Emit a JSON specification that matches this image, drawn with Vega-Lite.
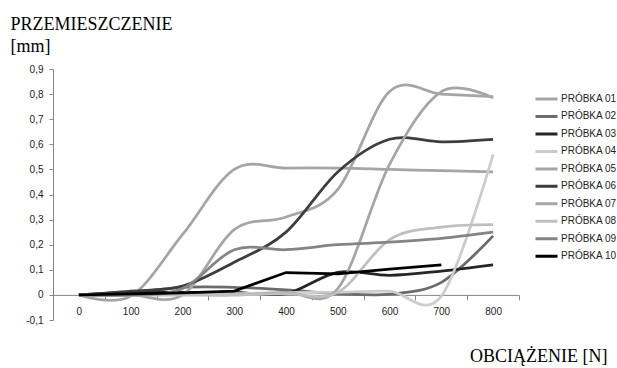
{
  "$schema": "https://vega.github.io/schema/vega-lite/v6.json",
  "width": 466,
  "height": 251,
  "autosize": {"type": "none"},
  "padding": {"left": 53, "top": 69, "right": 98, "bottom": 48},
  "background": "white",
  "config": {"view": {"stroke": null}, "font": "Liberation Sans"},
  "data": {"values": [
    {"s": "PRÓBKA 01", "x": 0, "y": 0}, {"s": "PRÓBKA 01", "x": 100, "y": -0.005}, {"s": "PRÓBKA 01", "x": 200, "y": 0.24}, {"s": "PRÓBKA 01", "x": 300, "y": 0.5}, {"s": "PRÓBKA 01", "x": 400, "y": 0.505}, {"s": "PRÓBKA 01", "x": 500, "y": 0.505}, {"s": "PRÓBKA 01", "x": 600, "y": 0.5}, {"s": "PRÓBKA 01", "x": 700, "y": 0.495}, {"s": "PRÓBKA 01", "x": 800, "y": 0.49},
    {"s": "PRÓBKA 02", "x": 0, "y": 0}, {"s": "PRÓBKA 02", "x": 100, "y": 0.01}, {"s": "PRÓBKA 02", "x": 200, "y": 0.03}, {"s": "PRÓBKA 02", "x": 300, "y": 0.03}, {"s": "PRÓBKA 02", "x": 400, "y": 0.02}, {"s": "PRÓBKA 02", "x": 500, "y": 0.005}, {"s": "PRÓBKA 02", "x": 600, "y": 0.003}, {"s": "PRÓBKA 02", "x": 700, "y": 0.05}, {"s": "PRÓBKA 02", "x": 800, "y": 0.235},
    {"s": "PRÓBKA 03", "x": 0, "y": 0}, {"s": "PRÓBKA 03", "x": 100, "y": 0.01}, {"s": "PRÓBKA 03", "x": 200, "y": 0.01}, {"s": "PRÓBKA 03", "x": 300, "y": 0.01}, {"s": "PRÓBKA 03", "x": 400, "y": 0.005}, {"s": "PRÓBKA 03", "x": 500, "y": 0.09}, {"s": "PRÓBKA 03", "x": 600, "y": 0.078}, {"s": "PRÓBKA 03", "x": 700, "y": 0.095}, {"s": "PRÓBKA 03", "x": 800, "y": 0.12},
    {"s": "PRÓBKA 04", "x": 0, "y": 0}, {"s": "PRÓBKA 04", "x": 100, "y": 0}, {"s": "PRÓBKA 04", "x": 200, "y": 0.005}, {"s": "PRÓBKA 04", "x": 300, "y": 0.005}, {"s": "PRÓBKA 04", "x": 400, "y": 0.01}, {"s": "PRÓBKA 04", "x": 500, "y": 0.01}, {"s": "PRÓBKA 04", "x": 600, "y": 0.015}, {"s": "PRÓBKA 04", "x": 700, "y": -0.005}, {"s": "PRÓBKA 04", "x": 800, "y": 0.56},
    {"s": "PRÓBKA 05", "x": 0, "y": 0}, {"s": "PRÓBKA 05", "x": 100, "y": 0}, {"s": "PRÓBKA 05", "x": 200, "y": 0}, {"s": "PRÓBKA 05", "x": 300, "y": 0.26}, {"s": "PRÓBKA 05", "x": 400, "y": 0.31}, {"s": "PRÓBKA 05", "x": 500, "y": 0.42}, {"s": "PRÓBKA 05", "x": 600, "y": 0.81}, {"s": "PRÓBKA 05", "x": 700, "y": 0.8}, {"s": "PRÓBKA 05", "x": 800, "y": 0.79},
    {"s": "PRÓBKA 06", "x": 0, "y": 0}, {"s": "PRÓBKA 06", "x": 100, "y": 0.015}, {"s": "PRÓBKA 06", "x": 200, "y": 0.035}, {"s": "PRÓBKA 06", "x": 300, "y": 0.13}, {"s": "PRÓBKA 06", "x": 400, "y": 0.25}, {"s": "PRÓBKA 06", "x": 500, "y": 0.49}, {"s": "PRÓBKA 06", "x": 600, "y": 0.62}, {"s": "PRÓBKA 06", "x": 700, "y": 0.61}, {"s": "PRÓBKA 06", "x": 800, "y": 0.62},
    {"s": "PRÓBKA 07", "x": 0, "y": 0}, {"s": "PRÓBKA 07", "x": 100, "y": 0}, {"s": "PRÓBKA 07", "x": 200, "y": 0}, {"s": "PRÓBKA 07", "x": 300, "y": 0}, {"s": "PRÓBKA 07", "x": 400, "y": 0.01}, {"s": "PRÓBKA 07", "x": 500, "y": 0.025}, {"s": "PRÓBKA 07", "x": 600, "y": 0.52}, {"s": "PRÓBKA 07", "x": 700, "y": 0.81}, {"s": "PRÓBKA 07", "x": 800, "y": 0.785},
    {"s": "PRÓBKA 08", "x": 0, "y": 0}, {"s": "PRÓBKA 08", "x": 100, "y": 0}, {"s": "PRÓBKA 08", "x": 200, "y": 0}, {"s": "PRÓBKA 08", "x": 300, "y": 0}, {"s": "PRÓBKA 08", "x": 400, "y": 0.005}, {"s": "PRÓBKA 08", "x": 500, "y": 0.01}, {"s": "PRÓBKA 08", "x": 600, "y": 0.22}, {"s": "PRÓBKA 08", "x": 700, "y": 0.27}, {"s": "PRÓBKA 08", "x": 800, "y": 0.28},
    {"s": "PRÓBKA 09", "x": 0, "y": 0}, {"s": "PRÓBKA 09", "x": 100, "y": 0}, {"s": "PRÓBKA 09", "x": 200, "y": 0.025}, {"s": "PRÓBKA 09", "x": 300, "y": 0.18}, {"s": "PRÓBKA 09", "x": 400, "y": 0.18}, {"s": "PRÓBKA 09", "x": 500, "y": 0.2}, {"s": "PRÓBKA 09", "x": 600, "y": 0.21}, {"s": "PRÓBKA 09", "x": 700, "y": 0.225}, {"s": "PRÓBKA 09", "x": 800, "y": 0.25},
    {"s": "PRÓBKA 10", "x": 0, "y": 0}, {"s": "PRÓBKA 10", "x": 100, "y": 0.004}, {"s": "PRÓBKA 10", "x": 200, "y": 0.008}, {"s": "PRÓBKA 10", "x": 300, "y": 0.015}, {"s": "PRÓBKA 10", "x": 400, "y": 0.089}, {"s": "PRÓBKA 10", "x": 500, "y": 0.084}, {"s": "PRÓBKA 10", "x": 600, "y": 0.103}, {"s": "PRÓBKA 10", "x": 700, "y": 0.12}
  ]},
  "encoding": {
    "x": {
      "field": "x", "type": "quantitative",
      "scale": {"domain": [-50, 850], "nice": false, "zero": false},
      "axis": {
        "values": [-50, 50, 150, 250, 350, 450, 550, 650, 750, 850],
        "offset": -25.1,
        "labelExpr": "datum.value > 800 ? '' : format(datum.value + 50, 'd')",
        "labelOffset": 25.9,
        "labelFlush": false, "labelOverlap": false, "labelBound": false,
        "tickSize": 5, "labelPadding": 7,
        "domainColor": "#868686", "tickColor": "#868686",
        "labelFont": "Liberation Sans", "labelFontSize": 10, "labelColor": "#222222",
        "grid": false,
        "title": "OBCIĄŻENIE [N]",
        "titleFont": "Liberation Serif", "titleFontSize": 18, "titleFontWeight": "normal", "titleColor": "#000000",
        "titleAlign": "right", "titleBaseline": "alphabetic", "titleAngle": 0,
        "titleX": 554, "titleY": 67
      }
    },
    "y": {
      "field": "y", "type": "quantitative",
      "scale": {"domain": [-0.1, 0.9], "nice": false, "zero": false},
      "axis": {
        "values": [-0.1, 0, 0.1, 0.2, 0.3, 0.4, 0.5, 0.6, 0.7, 0.8, 0.9],
        "labelExpr": "datum.value == 0 ? '0' : (datum.value < 0 ? '-' : '') + replace(format(abs(datum.value), '.1f'), '.', ',')",
        "tickSize": 4, "labelPadding": 6,
        "domainColor": "#868686", "tickColor": "#868686",
        "labelFont": "Liberation Sans", "labelFontSize": 10, "labelColor": "#222222",
        "grid": false,
        "title": ["PRZEMIESZCZENIE", "[mm]"],
        "titleFont": "Liberation Serif", "titleFontSize": 18, "titleFontWeight": "normal", "titleColor": "#000000",
        "titleAngle": 0, "titleAlign": "left", "titleBaseline": "alphabetic",
        "titleX": -43, "titleY": -40, "titleLineHeight": 22
      }
    },
    "color": {
      "field": "s", "type": "nominal",
      "scale": {
        "domain": ["PRÓBKA 01", "PRÓBKA 02", "PRÓBKA 03", "PRÓBKA 04", "PRÓBKA 05", "PRÓBKA 06", "PRÓBKA 07", "PRÓBKA 08", "PRÓBKA 09", "PRÓBKA 10"],
        "range": ["#a5a5a5", "#6b6b6b", "#262626", "#cccccc", "#a5a5a5", "#3d3d3d", "#a5a5a5", "#bfbfbf", "#848484", "#000000"]
      },
      "legend": {
        "orient": "none", "legendX": 481, "legendY": 21.5,
        "title": null, "symbolType": "stroke", "symbolSize": 484, "symbolStrokeWidth": 3,
        "clipHeight": 17,
        "labelFont": "Liberation Sans", "labelFontSize": 10, "labelColor": "#222222",
        "labelOffset": 2, "rowPadding": 0.47, "padding": 0
      }
    }
  },
  "layer": [
    {
      "transform": [{"filter": "datum.s != 'PRÓBKA 10'"}],
      "mark": {"type": "line", "interpolate": "cardinal", "strokeWidth": 2.75}
    },
    {
      "transform": [{"filter": "datum.s == 'PRÓBKA 10'"}],
      "mark": {"type": "line", "strokeWidth": 2.75}
    }
  ]
}
